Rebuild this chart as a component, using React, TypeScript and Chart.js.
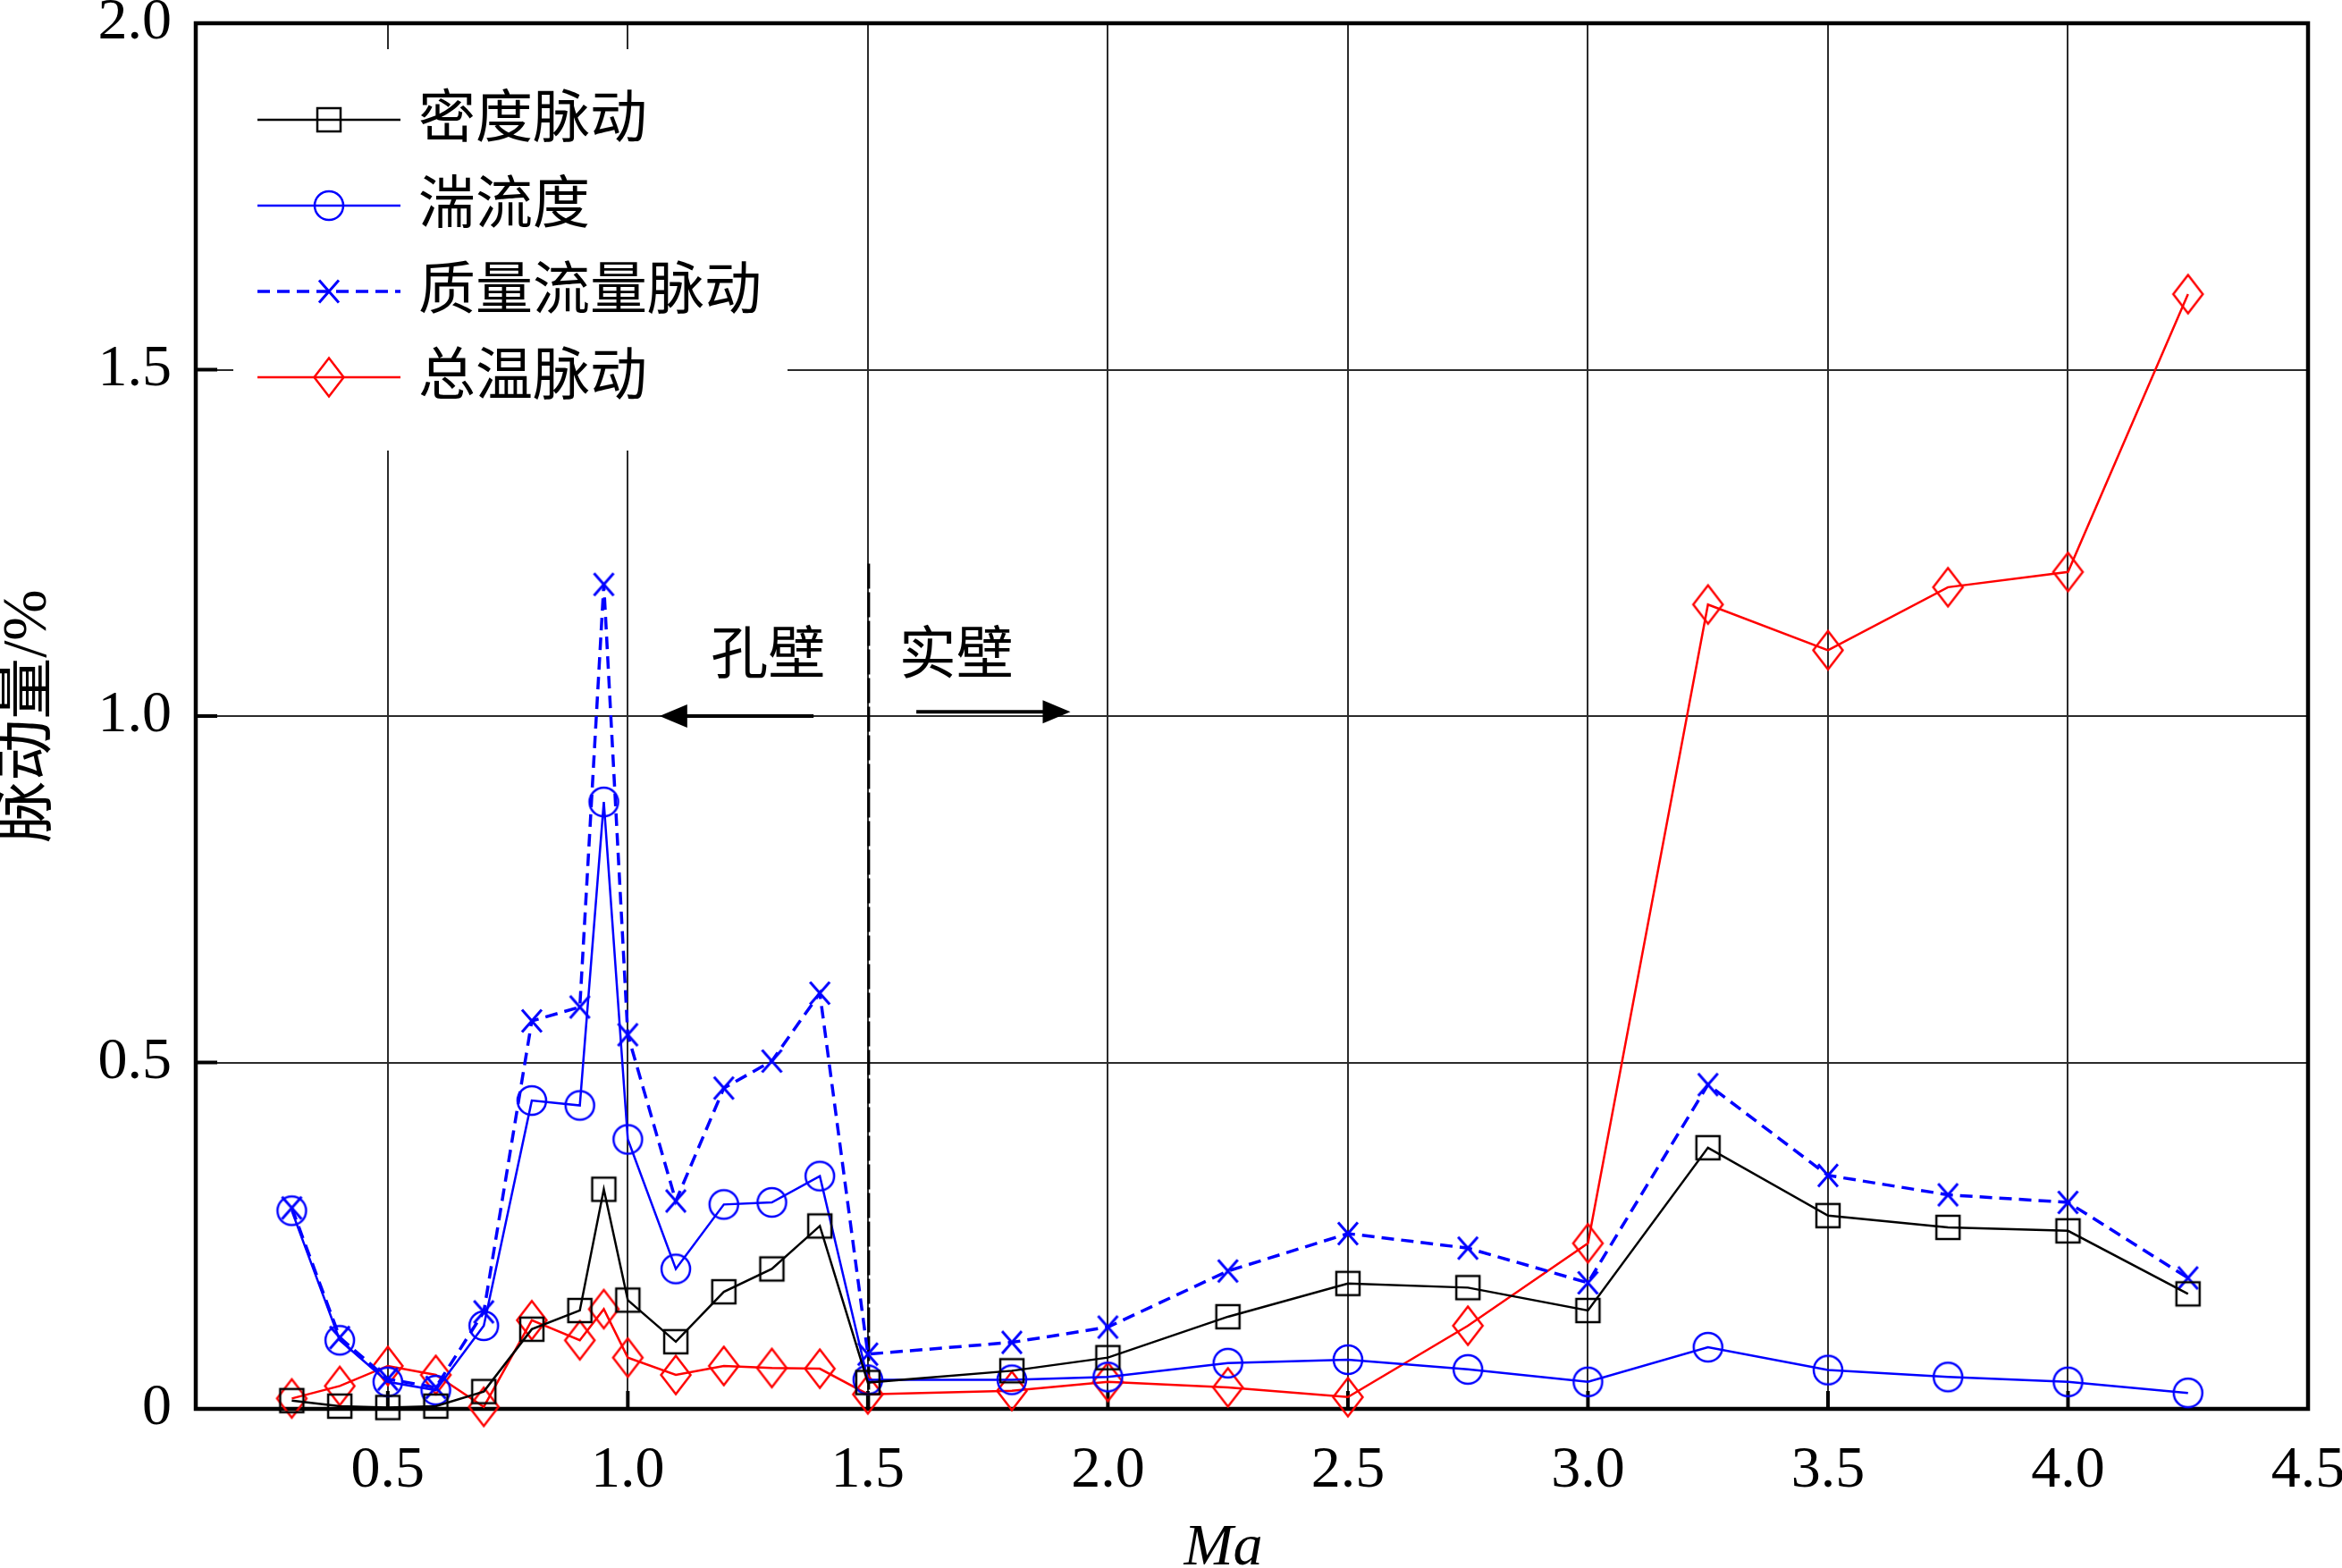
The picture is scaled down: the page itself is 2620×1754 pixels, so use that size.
import { useEffect, useRef } from "react";
import { Chart, registerables } from "chart.js";

Chart.register(...registerables);

// Ma numbers of the measured points
const maValues = [
  0.3, 0.4, 0.5, 0.6, 0.7, 0.8, 0.9, 0.95, 1.0, 1.1, 1.2, 1.3, 1.4, 1.5, 1.8, 2.0, 2.25, 2.5,
  2.75, 3.0, 3.25, 3.5, 3.75, 4.0, 4.25,
];
// 密度脉动
const densityPulse = [
  0.012, 0.004, 0.002, 0.004, 0.025, 0.115, 0.142, 0.317, 0.157, 0.097, 0.169, 0.202, 0.264,
  0.038, 0.055, 0.074, 0.133, 0.181, 0.175, 0.142, 0.377, 0.279, 0.262, 0.257, 0.166,
];
// 湍流度
const turbulence = [
  0.286, 0.099, 0.039, 0.027, 0.12, 0.445, 0.438, 0.876, 0.389, 0.202, 0.295, 0.298, 0.336,
  0.042, 0.042, 0.046, 0.066, 0.071, 0.057, 0.039, 0.089, 0.056, 0.046, 0.039, 0.023,
];
// 质量流量脉动
const massFlowPulse = [
  0.29, 0.103, 0.043, 0.031, 0.14, 0.56, 0.58, 1.19, 0.54, 0.3, 0.463, 0.502, 0.6, 0.079,
  0.096, 0.118, 0.199, 0.253, 0.232, 0.182, 0.468, 0.337, 0.309, 0.298, 0.189,
];
// 总温脉动
const totalTempPulse = [
  0.015, 0.033, 0.062, 0.049, 0.003, 0.128, 0.099, 0.144, 0.074, 0.049, 0.062, 0.059, 0.058,
  0.021, 0.026, 0.039, 0.031, 0.017, 0.12, 0.239, 1.161, 1.095, 1.186, 1.208, 1.609,
];

const seriesNames = ["密度脉动", "湍流度", "质量流量脉动", "总温脉动"];
const xTicks = [0.5, 1.0, 1.5, 2.0, 2.5, 3.0, 3.5, 4.0, 4.5];
const yTicks = [0, 0.5, 1.0, 1.5, 2.0];

// 孔壁 / 实壁 divider
const dividerMa = 1.5;
const dividerTop = 1.22;

const LATIN = '"Liberation Serif", "Times New Roman", serif';
const CJK = '"Liberation Serif", "Noto Sans CJK SC", serif';

type MarkerKind = "square" | "circle" | "cross" | "diamond";

function makeMarker(kind: MarkerKind, color: string) {
  const c = document.createElement("canvas");
  c.width = 40;
  c.height = 50;
  const g = c.getContext("2d")!;
  const cx = 20;
  const cy = 25;
  g.strokeStyle = color;
  g.lineWidth = 2.5;
  g.beginPath();
  if (kind === "square") {
    g.rect(cx - 13, cy - 13, 26, 26);
  } else if (kind === "circle") {
    g.arc(cx, cy, 16, 0, Math.PI * 2);
  } else if (kind === "cross") {
    g.lineWidth = 3;
    g.moveTo(cx - 11, cy - 12.5);
    g.lineTo(cx + 11, cy + 12.5);
    g.moveTo(cx + 11, cy - 12.5);
    g.lineTo(cx - 11, cy + 12.5);
  } else {
    g.moveTo(cx, cy - 21.5);
    g.lineTo(cx + 16.5, cy);
    g.lineTo(cx, cy + 21.5);
    g.lineTo(cx - 16.5, cy);
    g.closePath();
  }
  g.stroke();
  return c;
}

function arrow(ctx: CanvasRenderingContext2D, x0: number, x1: number, y: number) {
  const dir = Math.sign(x1 - x0);
  ctx.beginPath();
  ctx.moveTo(x0, y);
  ctx.lineTo(x1 - dir * 20, y);
  ctx.stroke();
  ctx.beginPath();
  ctx.moveTo(x1, y);
  ctx.lineTo(x1 - dir * 31, y - 13);
  ctx.lineTo(x1 - dir * 31, y + 13);
  ctx.closePath();
  ctx.fill();
}

export default function App() {
  const canvasRef = useRef<HTMLCanvasElement | null>(null);
  const chartRef = useRef<Chart | null>(null);

  useEffect(() => {
    document.body.style.margin = "0";
    if (!canvasRef.current) return;
    const ctx = canvasRef.current.getContext("2d");
    if (!ctx) return;

    const series = [
      { data: densityPulse, color: "#000000", width: 2.5, dash: [] as number[], marker: makeMarker("square", "#000000") },
      { data: turbulence, color: "#0000ff", width: 2.5, dash: [] as number[], marker: makeMarker("circle", "#0000ff") },
      { data: massFlowPulse, color: "#0000ff", width: 3.5, dash: [14, 8], marker: makeMarker("cross", "#0000ff") },
      { data: totalTempPulse, color: "#ff0000", width: 2.5, dash: [] as number[], marker: makeMarker("diamond", "#ff0000") },
    ];

    const decorations = {
      id: "decorations",
      beforeDatasetsDraw(chart: Chart) {
        const c = chart.ctx;
        const a = chart.chartArea;
        const xs = chart.scales.x;
        const ys = chart.scales.y;
        c.save();
        c.strokeStyle = "#000";
        c.lineWidth = 4;
        xTicks.forEach((v) => {
          const px = xs.getPixelForValue(v);
          c.beginPath();
          c.moveTo(px, a.bottom);
          c.lineTo(px, a.bottom - 20);
          c.stroke();
        });
        yTicks.forEach((v) => {
          const py = ys.getPixelForValue(v);
          c.beginPath();
          c.moveTo(a.left, py);
          c.lineTo(a.left + 24, py);
          c.stroke();
        });
        c.lineWidth = 4.5;
        c.strokeRect(a.left, a.top, a.right - a.left, a.bottom - a.top);
        // divider
        c.lineWidth = 3;
        c.setLineDash([28, 4]);
        const dx = xs.getPixelForValue(dividerMa) + 1;
        c.beginPath();
        c.moveTo(dx, ys.getPixelForValue(dividerTop));
        c.lineTo(dx, a.bottom);
        c.stroke();
        c.restore();
      },
      afterDatasetsDraw(chart: Chart) {
        const c = chart.ctx;
        const a = chart.chartArea;
        const xs = chart.scales.x;
        const ys = chart.scales.y;
        c.save();
        // legend
        c.fillStyle = "#ffffff";
        c.fillRect(a.left + 42, a.top + 29, 620, 449);
        series.forEach((s, i) => {
          const y = a.top + 108 + i * 96;
          c.strokeStyle = s.color;
          c.lineWidth = s.width;
          c.setLineDash(s.dash);
          c.beginPath();
          c.moveTo(a.left + 69, y);
          c.lineTo(a.left + 229, y);
          c.stroke();
          c.setLineDash([]);
          c.drawImage(s.marker, a.left + 149 - s.marker.width / 2, y - s.marker.height / 2);
          c.fillStyle = "#000";
          c.font = `64px ${CJK}`;
          c.textAlign = "left";
          c.textBaseline = "middle";
          c.fillText(seriesNames[i], a.left + 249, y + 2);
        });
        // 孔壁 / 实壁 annotations
        c.fillStyle = "#000";
        c.font = `64px ${CJK}`;
        c.textAlign = "center";
        c.textBaseline = "middle";
        c.fillText("孔壁", xs.getPixelForValue(1.292), ys.getPixelForValue(1.083));
        c.fillText("实壁", xs.getPixelForValue(1.684), ys.getPixelForValue(1.083));
        c.strokeStyle = "#000";
        c.lineWidth = 4;
        arrow(c, xs.getPixelForValue(1.387), xs.getPixelForValue(1.066), ys.getPixelForValue(1.0));
        arrow(c, xs.getPixelForValue(1.601), xs.getPixelForValue(1.922), ys.getPixelForValue(1.006));
        // x axis title
        c.font = `italic 66px ${LATIN}`;
        c.textBaseline = "alphabetic";
        c.fillText("Ma", (a.left + a.right) / 2 - 32, chart.height - 4);
        c.restore();
      },
    };

    if (chartRef.current) chartRef.current.destroy();

    chartRef.current = new Chart(ctx, {
      type: "line",
      data: {
        datasets: series.map((s, i) => ({
          label: seriesNames[i],
          data: maValues.map((x, j) => ({ x, y: s.data[j] })),
          borderColor: s.color,
          borderWidth: s.width,
          borderDash: s.dash,
          pointStyle: s.marker,
          pointRadius: 14,
          pointHoverRadius: 14,
          fill: false,
          tension: 0,
          clip: false,
        })),
      },
      options: {
        animation: false,
        responsive: false,
        events: [],
        layout: { padding: { top: 26, right: 38, bottom: 0, left: 0 } },
        plugins: {
          legend: { display: false },
          tooltip: { enabled: false },
        },
        scales: {
          x: {
            type: "linear",
            min: 0.1,
            max: 4.5,
            border: { display: false },
            grid: { color: "#2b2b2b", lineWidth: 2, drawTicks: false },
            afterBuildTicks: (s: any) => {
              s.ticks = xTicks.map((v) => ({ value: v }));
            },
            afterFit: (s: any) => {
              s.height = 178;
              s.paddingLeft = 0;
              s.paddingRight = 0;
            },
            ticks: {
              padding: 37,
              color: "#000",
              font: { family: LATIN, size: 66, lineHeight: 1 },
              callback: (v: any) => Number(v).toFixed(1),
            },
          },
          y: {
            min: 0,
            max: 2,
            border: { display: false },
            grid: { color: "#2b2b2b", lineWidth: 2, drawTicks: false },
            afterBuildTicks: (s: any) => {
              s.ticks = yTicks.map((v) => ({ value: v }));
            },
            afterFit: (s: any) => {
              s.width = 219;
              s.paddingTop = 0;
              s.paddingBottom = 0;
            },
            title: {
              display: true,
              text: "脉动量/%",
              color: "#000",
              padding: 0,
              font: { family: CJK, size: 69, lineHeight: 0.95 },
            },
            ticks: {
              padding: 27,
              color: "#000",
              font: { family: LATIN, size: 66, lineHeight: 1 },
              callback: (v: any) => (Number(v) === 0 ? "0" : Number(v).toFixed(1)),
            },
          },
        },
      },
      plugins: [decorations],
    });

    return () => chartRef.current?.destroy();
  }, []);

  return (
    <div style={{ width: "2620px", height: "1754px", background: "#fff" }}>
      <canvas ref={canvasRef} width={2620} height={1754} style={{ width: "2620px", height: "1754px" }}></canvas>
    </div>
  );
}
